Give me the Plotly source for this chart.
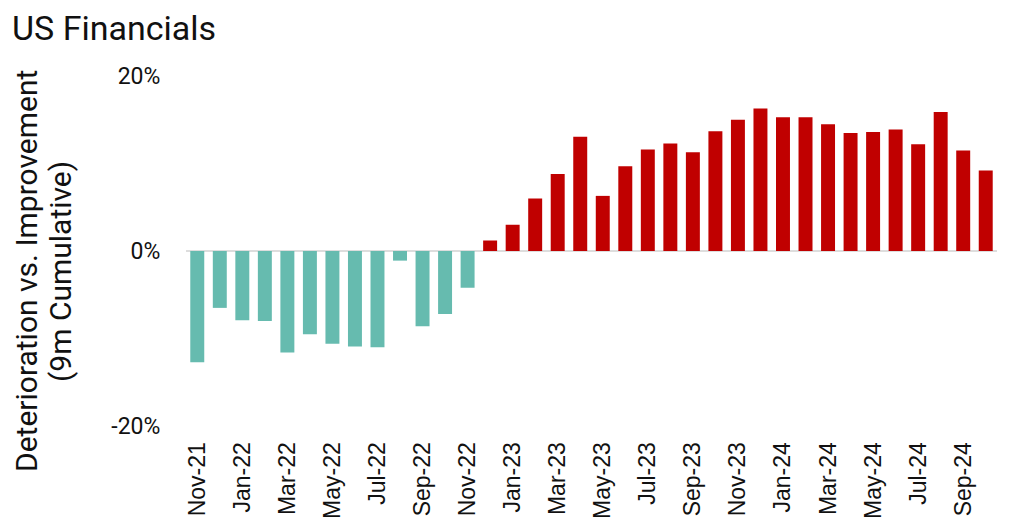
import plotly.graph_objects as go

months = ["Nov-21","Dec-21","Jan-22","Feb-22","Mar-22","Apr-22","May-22","Jun-22","Jul-22","Aug-22",
          "Sep-22","Oct-22","Nov-22","Dec-22","Jan-23","Feb-23","Mar-23","Apr-23","May-23","Jun-23",
          "Jul-23","Aug-23","Sep-23","Oct-23","Nov-23","Dec-23","Jan-24","Feb-24","Mar-24","Apr-24",
          "May-24","Jun-24","Jul-24","Aug-24","Sep-24","Oct-24"]
values = [-12.7,-6.5,-7.9,-8.0,-11.6,-9.5,-10.6,-10.9,-11.0,-1.1,
          -8.6,-7.2,-4.2,1.2,3.0,6.0,8.8,13.05,6.3,9.7,
          11.6,12.3,11.3,13.7,15.0,16.3,15.3,15.3,14.5,13.5,
          13.6,13.9,12.2,15.9,11.5,9.2]
tick_labels = months[::2]
y_ticks = [-20, 0, 20]
y_tick_text = ["-20%", "0%", "20%"]

TEAL = "#66BBAF"
RED = "#C00000"
colors = [TEAL if v < 0 else RED for v in values]

fig = go.Figure(go.Bar(
    x=months, y=values,
    marker=dict(color=colors, line=dict(width=0)),
    hoverinfo="x+y",
))

fig.update_layout(
    width=1024, height=527,
    margin=dict(l=178, r=35, t=68, b=109, autoexpand=False),
    paper_bgcolor="white", plot_bgcolor="white",
    bargap=0.38,
    showlegend=False,
    title=dict(text="US Financials", x=4/1024, xanchor="left", xref="container",
               y=1 - 20.5/527, yanchor="middle", yref="container",
               font=dict(family="Roboto", size=34, color="#111111")),
    font=dict(family="Roboto", color="#111111"),
    annotations=[
        dict(text="Deterioration vs. Improvement", textangle=-90,
             xref="paper", yref="paper", x=(18-178)/811, y=(418-263)/350,
             xanchor="center", yanchor="middle", showarrow=False,
             font=dict(family="Roboto", size=30, color="#111111")),
        dict(text="(9m Cumulative)", textangle=-90,
             xref="paper", yref="paper", x=(52-178)/811, y=(418-264)/350,
             xanchor="center", yanchor="middle", showarrow=False,
             font=dict(family="Roboto", size=30, color="#111111")),
    ],
)

fig.update_xaxes(
    type="category",
    tickmode="array", tickvals=tick_labels, ticktext=tick_labels,
    tickangle=-90,
    tickfont=dict(family="Liberation Sans, Arial", size=23, color="#111111"),
    ticks="outside", ticklen=6, tickcolor="rgba(0,0,0,0)",
    showgrid=False, showline=False, zeroline=False,
)

fig.update_yaxes(
    range=[-20, 20],
    tickmode="array", tickvals=y_ticks, ticktext=y_tick_text,
    tickfont=dict(family="Roboto", size=23, color="#111111"),
    ticks="outside", ticklen=20, tickcolor="rgba(0,0,0,0)",
    showgrid=True, gridcolor="#DDDDDD", gridwidth=2,
    zeroline=True, zerolinecolor="#DDDDDD", zerolinewidth=2,
    showline=False,
    automargin=False,
)

fig.write_html("out.html")
